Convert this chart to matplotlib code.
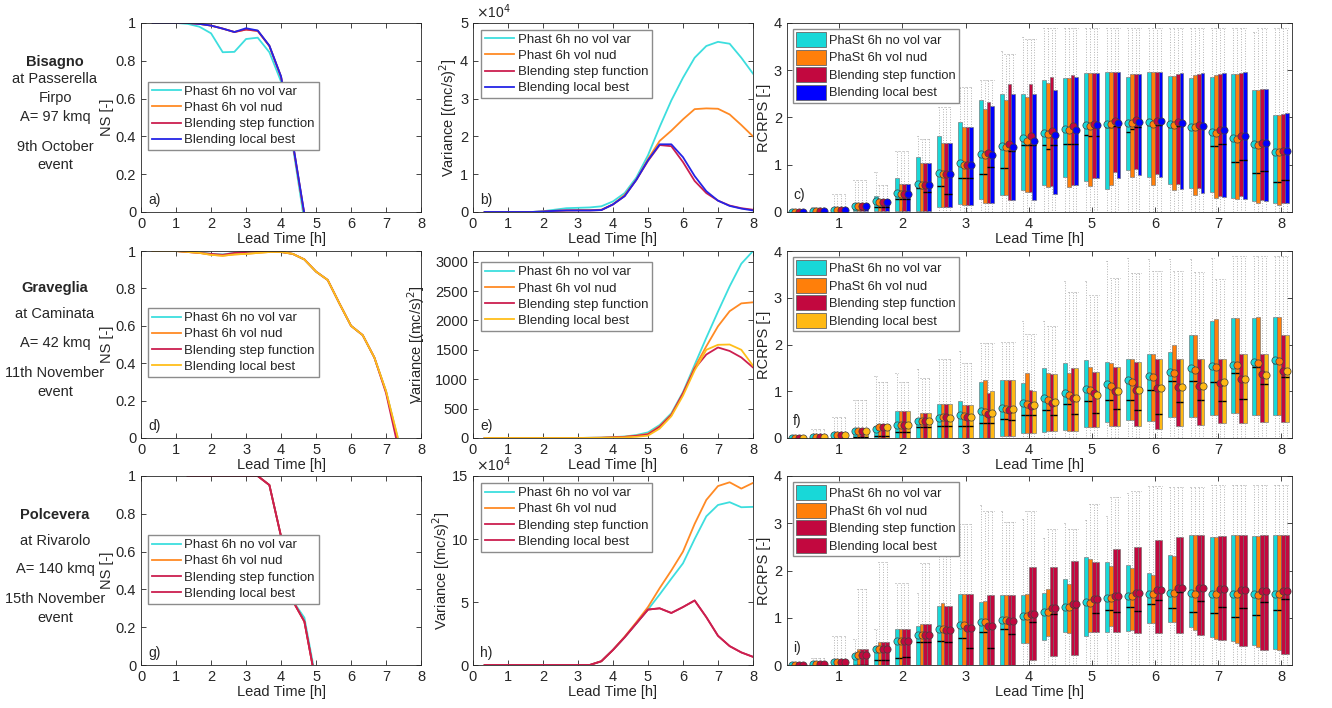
import numpy as np
import matplotlib
matplotlib.use("Agg")
from matplotlib import pyplot as plt
from matplotlib.patches import Patch
from matplotlib.ticker import FormatStrFormatter

plt.rcParams['font.family'] = ['Liberation Sans', 'DejaVu Sans']
plt.rcParams['font.size'] = 10
plt.rcParams['text.color'] = '#262626'
plt.rcParams['axes.labelcolor'] = '#262626'
plt.rcParams['xtick.color'] = '#262626'
plt.rcParams['ytick.color'] = '#262626'

# lead times every 20 minutes
t = np.arange(1, 25) / 3
nan = np.nan

line_names = ['Phast 6h no vol var', 'Phast 6h vol nud', 'Blending step function', 'Blending local best']
box_names = ['PhaSt 6h no vol var', 'PhaSt 6h vol nud', 'Blending step function', 'Blending local best']

CYAN = '#3ddede'
ORANGE = '#ff8a24'
CRIMSON = '#cc1f4f'
BLUE = '#2424e6'
YELLOW = '#ffbe1a'
BCYAN = '#18d8d8'
BORANGE = '#ff7f0a'
BCRIMSON = '#c2083f'
BBLUE = '#0000ff'
BYELLOW = '#ffb914'

stations = [
    ['Bisagno', 'at Passerella', 'Firpo', 'A= 97 kmq', '9th October', 'event'],
    ['Graveglia', 'at Caminata', 'A= 42 kmq', '11th November', 'event'],
    ['Polcevera', 'at Rivarolo', 'A= 140 kmq', '15th November', 'event'],
]

# ---- NS (panels a, d, g)
ns_a = [
    [1, 1, 1, 0.995, 0.98, 0.945, 0.845, 0.847, 0.915, 0.922, 0.845, 0.69, 0.35, -0.05, nan, nan, nan, nan, nan, nan, nan, nan, nan, nan],
    [1, 1, 1, 1, 0.995, 0.986, 0.97, 0.952, 0.965, 0.958, 0.878, 0.715, 0.365, -0.015, nan, nan, nan, nan, nan, nan, nan, nan, nan, nan],
    [1, 1, 1, 1, 0.995, 0.986, 0.97, 0.952, 0.965, 0.958, 0.878, 0.715, 0.365, -0.015, nan, nan, nan, nan, nan, nan, nan, nan, nan, nan],
    [1, 1, 1, 1, 0.995, 0.986, 0.97, 0.952, 0.972, 0.96, 0.88, 0.717, 0.37, -0.01, nan, nan, nan, nan, nan, nan, nan, nan, nan, nan],
]
ns_d = [
    [1, 1, 1, 0.997, 0.993, 0.985, 0.982, 0.99, 0.995, 0.997, 0.997, 0.995, 0.985, 0.955, 0.89, 0.845, 0.72, 0.6, 0.55, 0.43, 0.25, 0.0, nan, nan],
    [1, 1, 1, 0.995, 0.99, 0.98, 0.975, 0.982, 0.985, 0.99, 0.995, 0.995, 0.985, 0.955, 0.89, 0.845, 0.72, 0.6, 0.55, 0.43, 0.25, -0.01, nan, nan],
    [1, 1, 1, 0.995, 0.99, 0.985, 0.98, 0.99, 0.995, 1.0, 0.998, 0.995, 0.985, 0.955, 0.89, 0.845, 0.72, 0.6, 0.55, 0.43, 0.24, -0.04, nan, nan],
    [1, 1, 1, 0.995, 0.99, 0.98, 0.975, 0.982, 0.985, 0.99, 0.995, 0.995, 0.985, 0.955, 0.89, 0.845, 0.72, 0.6, 0.55, 0.43, 0.25, 0.005, nan, nan],
]
ns_g = [
    [nan, nan, nan, 1, 1, 1, 1, 1, 1, 1, 0.952, 0.68, 0.34, 0.25, -0.08, nan, nan, nan, nan, nan, nan, nan, nan, nan],
    [nan, nan, nan, 1, 1, 1, 1, 1, 1, 1, 0.952, 0.68, 0.34, 0.23, -0.1, nan, nan, nan, nan, nan, nan, nan, nan, nan],
    [nan, nan, nan, 1, 1, 1, 1, 1, 1, 1, 0.952, 0.68, 0.34, 0.23, -0.1, nan, nan, nan, nan, nan, nan, nan, nan, nan],
    [nan, nan, nan, 1, 1, 1, 1, 1, 1, 1, 0.952, 0.68, 0.34, 0.23, -0.1, nan, nan, nan, nan, nan, nan, nan, nan, nan],
]

# ---- variance (panels b, h in 1e4 (mc/s)^2, panel e in (mc/s)^2)
var_b = [
    [0, 0, 0, 0, 0, 0.02, 0.06, 0.1, 0.11, 0.12, 0.15, 0.28, 0.5, 0.91, 1.5, 2.25, 2.95, 3.55, 4.08, 4.39, 4.5, 4.45, 4.08, 3.66],
    [0, 0, 0, 0, 0, 0.01, 0.03, 0.04, 0.05, 0.05, 0.06, 0.2, 0.45, 0.85, 1.4, 1.88, 2.15, 2.45, 2.72, 2.74, 2.73, 2.58, 2.3, 2.0],
    [0, 0, 0, 0, 0, 0.01, 0.03, 0.04, 0.04, 0.04, 0.05, 0.2, 0.42, 0.85, 1.35, 1.77, 1.74, 1.32, 0.82, 0.5, 0.3, 0.17, 0.1, 0.06],
    [0, 0, 0, 0, 0, 0.01, 0.03, 0.04, 0.04, 0.04, 0.05, 0.2, 0.42, 0.85, 1.37, 1.79, 1.79, 1.45, 0.95, 0.55, 0.3, 0.16, 0.09, 0.04],
]
var_e = [
    [0, 0, 0, 0, 0, 0, 0, 0, 0, 3, 5, 15, 25, 50, 95, 220, 420, 780, 1245, 1705, 2150, 2580, 2965, 3180],
    [0, 0, 0, 0, 0, 0, 0, 0, 0, 2, 4, 10, 20, 40, 70, 200, 400, 760, 1200, 1560, 1900, 2157, 2290, 2308],
    [0, 0, 0, 0, 0, 0, 0, 0, 0, 2, 4, 10, 18, 35, 60, 190, 390, 760, 1180, 1420, 1540, 1480, 1370, 1200],
    [0, 0, 0, 0, 0, 0, 0, 0, 0, 1, 2, 5, 10, 20, 40, 160, 370, 720, 1150, 1500, 1585, 1590, 1500, 1230],
]
var_h = [
    [0, 0, 0, 0, 0, 0, 0, 0, 0, 0, 0.3, 1.2, 2.2, 3.3, 4.4, 5.6, 6.85, 8.07, 10.0, 11.8, 12.7, 12.92, 12.52, 12.55],
    [0, 0, 0, 0, 0, 0, 0, 0, 0, 0, 0.3, 1.2, 2.25, 3.4, 4.6, 6.1, 7.5, 9.0, 11.2, 13.1, 14.2, 14.5, 14.0, 14.45],
    [0, 0, 0, 0, 0, 0, 0, 0, 0, 0, 0.3, 1.2, 2.2, 3.3, 4.4, 4.5, 4.13, 4.6, 5.12, 3.8, 2.32, 1.5, 1.0, 0.65],
    [0, 0, 0, 0, 0, 0, 0, 0, 0, 0, 0.3, 1.2, 2.2, 3.3, 4.4, 4.5, 4.13, 4.6, 5.12, 3.8, 2.32, 1.5, 1.0, 0.65],
]

# ---- RCRPS box statistics (panels c, f, i)
c_q1 = [
    [0, 0, 0.01, 0.02, 0.03, 0.02, 0.03, 0.1, 0.17, 0.27, 0.35, 0.47, 0.57, 0.75, 0.65, 0.48, 0.88, 0.75, 0.6, 0.5, 0.42, 0.3, 0.23, 0.18],
    [0, 0, 0.01, 0.02, 0.03, 0.02, 0.03, 0.1, 0.15, 0.2, 0.35, 0.43, 0.52, 0.52, 0.55, 0.57, 0.75, 0.57, 0.47, 0.36, 0.3, 0.27, 0.18, 0.15],
    [0, 0, 0.01, 0.02, 0.03, 0.02, 0.03, 0.1, 0.15, 0.2, 0.25, 0.43, 0.55, 0.58, 0.72, 0.85, 0.9, 0.8, 0.6, 0.5, 0.34, 0.34, 0.25, 0.2],
    [0, 0, 0.01, 0.02, 0.03, 0.02, 0.03, 0.1, 0.15, 0.2, 0.25, 0.25, 0.37, 0.58, 0.72, 0.72, 0.78, 0.73, 0.48, 0.4, 0.32, 0.28, 0.23, 0.18],
]
c_med = [
    [0.01, 0.01, 0.03, 0.06, 0.1, 0.28, 0.5, 0.55, 0.72, 0.8, 0.92, 1.42, 1.42, 1.43, 1.62, 1.8, 1.7, 1.85, 1.8, 1.76, 1.39, 1.06, 0.82, 0.64],
    [0.01, 0.01, 0.03, 0.06, 0.1, 0.28, 0.5, 0.55, 0.72, 0.8, 0.92, 1.42, 1.33, 1.43, 1.6, 1.8, 1.75, 1.85, 1.8, 1.76, 1.39, 1.06, 0.82, 0.64],
    [0.01, 0.01, 0.03, 0.06, 0.1, 0.28, 0.42, 0.38, 0.72, 0.95, 1.3, 1.42, 1.42, 1.43, 1.8, 1.82, 1.8, 1.85, 1.82, 1.77, 1.43, 1.1, 0.86, 0.68],
    [0.01, 0.01, 0.03, 0.06, 0.1, 0.28, 0.42, 0.38, 0.72, 0.95, 1.3, 1.42, 1.42, 1.43, 1.6, 1.8, 1.8, 1.85, 1.82, 1.77, 1.43, 1.1, 0.86, 0.68],
]
c_q3 = [
    [0.02, 0.03, 0.06, 0.2, 0.34, 0.72, 1.17, 1.61, 1.91, 2.37, 2.5, 2.5, 2.8, 2.84, 2.95, 2.96, 2.86, 2.96, 2.87, 2.84, 2.85, 2.92, 2.58, 2.05],
    [0.02, 0.03, 0.06, 0.2, 0.27, 0.59, 1.04, 1.46, 1.8, 2.18, 2.36, 2.44, 2.72, 2.84, 2.95, 2.96, 2.92, 2.96, 2.87, 2.89, 2.89, 2.93, 2.59, 2.06],
    [0.02, 0.03, 0.06, 0.2, 0.27, 0.59, 1.04, 1.46, 1.8, 2.32, 2.71, 2.7, 2.86, 2.89, 2.95, 2.96, 2.92, 2.96, 2.93, 2.93, 2.93, 2.95, 2.6, 2.07],
    [0.02, 0.03, 0.06, 0.2, 0.27, 0.59, 1.04, 1.46, 1.8, 2.25, 2.5, 2.49, 2.58, 2.86, 2.95, 2.96, 2.92, 2.96, 2.94, 2.95, 2.95, 2.96, 2.61, 2.09],
]
c_mean = [
    [0.01, 0.02, 0.05, 0.13, 0.24, 0.4, 0.6, 0.82, 1.03, 1.22, 1.4, 1.56, 1.68, 1.76, 1.83, 1.87, 1.89, 1.9, 1.87, 1.8, 1.7, 1.57, 1.43, 1.26],
    [0.01, 0.02, 0.05, 0.13, 0.22, 0.38, 0.58, 0.8, 1.0, 1.2, 1.37, 1.5, 1.64, 1.74, 1.81, 1.87, 1.88, 1.87, 1.84, 1.79, 1.68, 1.55, 1.42, 1.26],
    [0.01, 0.02, 0.05, 0.13, 0.22, 0.38, 0.58, 0.8, 1.0, 1.24, 1.43, 1.6, 1.72, 1.81, 1.87, 1.93, 1.95, 1.93, 1.9, 1.84, 1.74, 1.6, 1.46, 1.3],
    [0.01, 0.02, 0.05, 0.13, 0.22, 0.38, 0.58, 0.8, 1.0, 1.2, 1.38, 1.5, 1.62, 1.74, 1.83, 1.89, 1.9, 1.92, 1.88, 1.82, 1.73, 1.6, 1.46, 1.3],
]
c_whi = [
    [0.05, 0.1, 0.39, 0.67, 0.85, 1.28, 1.6, 2.22, 2.65, 2.8, 3.41, 3.71, 3.89, 3.89, 3.9, 3.9, 3.9, 3.9, 3.9, 3.9, 3.9, 3.9, 3.8, 3.9],
    [0.05, 0.1, 0.39, 0.67, 0.57, 1.28, 1.55, 2.22, 2.65, 2.8, 3.35, 3.65, 3.89, 3.89, 3.9, 3.9, 3.9, 3.9, 3.9, 3.9, 3.9, 3.9, 3.9, 3.9],
    [0.05, 0.1, 0.39, 0.67, 0.57, 1.28, 1.55, 2.22, 2.65, 2.8, 3.35, 3.65, 3.89, 3.89, 3.9, 3.9, 3.9, 3.9, 3.9, 3.9, 3.9, 3.9, 3.9, 3.9],
    [0.05, 0.1, 0.39, 0.67, 0.57, 1.28, 1.55, 2.22, 2.65, 2.8, 3.35, 3.65, 3.89, 3.89, 3.9, 3.9, 3.9, 3.9, 3.9, 3.9, 3.9, 3.9, 3.9, 3.9],
]

f_q1 = [
    [0, 0, 0.01, 0.01, 0.01, 0, 0, 0, 0, 0, 0.05, 0.1, 0.13, 0.16, 0.24, 0.35, 0.38, 0.36, 0.45, 0.45, 0.5, 0.54, 0.5, 0.5],
    [0, 0, 0.01, 0.01, 0.01, 0, 0, 0, 0, 0, 0.05, 0.1, 0.15, 0.15, 0.24, 0.25, 0.38, 0.36, 0.45, 0.45, 0.5, 0.54, 0.5, 0.5],
    [0, 0, 0.01, 0.01, 0.01, 0, 0, 0, 0, 0, 0.05, 0.1, 0.15, 0.15, 0.24, 0.25, 0.25, 0.2, 0.25, 0.27, 0.33, 0.33, 0.35, 0.35],
    [0, 0, 0.01, 0.01, 0.01, 0, 0, 0, 0, 0, 0.05, 0.1, 0.15, 0.15, 0.24, 0.25, 0.25, 0.2, 0.25, 0.27, 0.33, 0.33, 0.35, 0.35],
]
f_med = [
    [0, 0.02, 0.04, 0.03, 0.05, 0.12, 0.24, 0.25, 0.25, 0.32, 0.4, 0.5, 0.6, 0.72, 0.8, 0.82, 0.82, 1.03, 1.22, 1.22, 1.2, 1.38, 1.52, 1.6],
    [0, 0.02, 0.04, 0.03, 0.05, 0.12, 0.24, 0.25, 0.25, 0.32, 0.4, 0.5, 0.6, 0.72, 0.8, 0.82, 0.82, 1.03, 1.22, 1.22, 1.2, 1.38, 1.52, 1.6],
    [0, 0.02, 0.04, 0.03, 0.05, 0.12, 0.24, 0.25, 0.25, 0.32, 0.38, 0.5, 0.5, 0.52, 0.53, 0.62, 0.6, 0.52, 0.78, 0.82, 0.8, 0.83, 1.15, 1.3],
    [0, 0.02, 0.04, 0.03, 0.05, 0.12, 0.24, 0.25, 0.25, 0.32, 0.38, 0.5, 0.5, 0.52, 0.53, 0.62, 0.6, 0.52, 0.78, 0.82, 0.8, 0.83, 1.15, 1.3],
]
f_q3 = [
    [0.01, 0.04, 0.08, 0.2, 0.26, 0.57, 0.4, 0.72, 0.79, 1.2, 1.24, 1.17, 1.5, 1.61, 1.67, 1.63, 1.7, 1.79, 1.83, 2.21, 2.5, 2.57, 2.57, 2.58],
    [0.01, 0.04, 0.08, 0.2, 0.3, 0.57, 0.53, 0.72, 0.71, 1.25, 1.24, 1.39, 1.4, 1.38, 1.52, 1.6, 1.7, 1.79, 2.0, 2.21, 2.54, 2.57, 2.58, 2.58],
    [0.01, 0.04, 0.08, 0.2, 0.3, 0.57, 0.53, 0.72, 0.71, 0.96, 1.24, 1.03, 1.36, 1.5, 1.42, 1.52, 1.62, 1.7, 1.7, 1.7, 1.7, 1.79, 1.79, 2.21],
    [0.01, 0.04, 0.08, 0.2, 0.3, 0.57, 0.53, 0.72, 0.71, 1.01, 1.24, 1.01, 1.36, 1.5, 1.42, 1.52, 1.62, 1.7, 1.7, 1.7, 1.7, 1.79, 1.79, 2.2],
]
f_mean = [
    [0, 0.03, 0.07, 0.14, 0.2, 0.28, 0.36, 0.42, 0.5, 0.58, 0.65, 0.75, 0.85, 0.97, 1.05, 1.16, 1.24, 1.33, 1.42, 1.5, 1.53, 1.57, 1.62, 1.66],
    [0, 0.03, 0.07, 0.14, 0.23, 0.27, 0.37, 0.45, 0.47, 0.56, 0.62, 0.72, 0.82, 0.93, 1.03, 1.12, 1.2, 1.3, 1.38, 1.46, 1.52, 1.56, 1.6, 1.64],
    [0, 0.03, 0.07, 0.14, 0.24, 0.28, 0.37, 0.44, 0.45, 0.52, 0.6, 0.69, 0.75, 0.86, 0.96, 1.0, 1.03, 1.07, 1.09, 1.12, 1.18, 1.27, 1.36, 1.44],
    [0, 0.03, 0.07, 0.14, 0.24, 0.28, 0.37, 0.43, 0.44, 0.53, 0.61, 0.7, 0.78, 0.85, 0.92, 1.0, 1.03, 1.07, 1.09, 1.12, 1.19, 1.27, 1.35, 1.43],
]
f_whi = [
    [0.02, 0.2, 0.45, 0.82, 1.33, 1.4, 1.47, 1.7, 1.86, 2.03, 2.05, 2.5, 2.5, 3.35, 3.35, 3.78, 3.85, 3.83, 3.83, 3.83, 3.85, 3.9, 3.9, 3.9],
    [0.02, 0.2, 0.45, 0.82, 1.2, 1.2, 1.28, 1.7, 1.6, 2.03, 2.05, 2.22, 2.4, 3.12, 3.07, 3.43, 3.52, 3.57, 3.57, 3.55, 3.4, 3.9, 3.9, 3.9],
    [0.02, 0.2, 0.45, 0.82, 1.2, 1.2, 1.28, 1.7, 1.6, 2.03, 2.05, 2.22, 2.4, 3.12, 3.07, 3.43, 3.52, 3.57, 3.57, 3.55, 3.4, 3.9, 3.9, 3.9],
    [0.02, 0.2, 0.45, 0.82, 1.2, 1.2, 1.28, 1.7, 1.6, 2.03, 2.05, 2.22, 2.4, 3.12, 3.07, 3.43, 3.52, 3.57, 3.57, 3.55, 3.4, 3.9, 3.9, 3.9],
]

i_q1 = [
    [0, 0, 0, 0, 0, 0, 0, 0, 0, 0, 0, 0.46, 0.52, 0.7, 0.62, 0.7, 0.73, 0.89, 0.9, 0.8, 0.6, 0.5, 0.43, 0.33],
    [0, 0, 0, 0, 0, 0, 0, 0, 0, 0, 0, 0.47, 0.62, 0.67, 0.7, 0.83, 0.74, 0.89, 0.9, 0.75, 0.56, 0.46, 0.38, 0.32],
    [0, 0, 0, 0, 0, 0, 0, 0, 0, 0, 0, 0.1, 0.2, 0.22, 0.7, 0.7, 0.67, 0.67, 0.67, 0.63, 0.54, 0.4, 0.31, 0.24],
    [0, 0, 0, 0, 0, 0, 0, 0, 0, 0, 0, 0.1, 0.2, 0.22, 0.7, 0.7, 0.67, 0.67, 0.67, 0.63, 0.54, 0.4, 0.31, 0.24],
]
i_med = [
    [0, 0.01, 0.02, 0.01, 0.1, 0.15, 0.48, 0.5, 0.58, 0.7, 0.77, 1.0, 1.1, 1.23, 1.35, 1.17, 1.22, 1.3, 1.2, 1.13, 1.1, 1.02, 1.05, 1.17],
    [0, 0.01, 0.02, 0.01, 0.1, 0.15, 0.48, 0.5, 0.58, 0.7, 0.77, 1.0, 1.1, 1.23, 1.35, 1.17, 1.22, 1.3, 1.2, 1.13, 1.1, 1.02, 1.05, 1.17],
    [0, 0.01, 0.02, 0.01, 0.1, 0.16, 0.48, 0.48, 0.36, 0.37, 0.65, 0.91, 1.08, 1.23, 1.1, 1.12, 1.14, 1.37, 1.55, 1.35, 1.22, 1.2, 1.33, 1.4],
    [0, 0.01, 0.02, 0.01, 0.1, 0.16, 0.48, 0.48, 0.36, 0.37, 0.65, 0.91, 1.08, 1.23, 1.1, 1.12, 1.14, 1.37, 1.55, 1.35, 1.22, 1.2, 1.33, 1.4],
]
i_q3 = [
    [0.01, 0.03, 0.08, 0.24, 0.4, 0.76, 0.82, 1.24, 1.51, 1.34, 1.48, 1.48, 1.53, 1.83, 2.28, 2.19, 2.12, 1.94, 2.32, 2.76, 2.71, 2.76, 2.74, 2.76],
    [0.01, 0.03, 0.08, 0.34, 0.49, 0.76, 0.86, 1.31, 1.51, 1.35, 1.48, 1.5, 1.6, 1.71, 2.24, 2.1, 2.05, 1.91, 2.3, 2.76, 2.71, 2.76, 2.74, 2.76],
    [0.01, 0.03, 0.08, 0.34, 0.49, 0.76, 0.86, 1.25, 1.51, 1.49, 1.48, 2.07, 2.07, 2.21, 2.17, 2.46, 2.5, 2.64, 2.71, 2.76, 2.73, 2.76, 2.75, 2.76],
    [0.01, 0.03, 0.08, 0.34, 0.49, 0.76, 0.86, 1.25, 1.51, 1.49, 1.48, 2.07, 2.07, 2.21, 2.17, 2.46, 2.5, 2.64, 2.71, 2.76, 2.73, 2.76, 2.75, 2.76],
]
i_mean = [
    [0, 0.02, 0.06, 0.2, 0.33, 0.5, 0.63, 0.76, 0.84, 0.9, 0.96, 1.04, 1.13, 1.23, 1.33, 1.41, 1.47, 1.51, 1.53, 1.52, 1.51, 1.51, 1.5, 1.51],
    [0, 0.02, 0.07, 0.22, 0.34, 0.5, 0.63, 0.77, 0.85, 0.9, 0.96, 1.04, 1.13, 1.23, 1.32, 1.41, 1.45, 1.5, 1.52, 1.51, 1.5, 1.5, 1.49, 1.5],
    [0, 0.02, 0.07, 0.22, 0.34, 0.5, 0.63, 0.75, 0.78, 0.83, 0.94, 1.09, 1.2, 1.3, 1.39, 1.46, 1.52, 1.58, 1.62, 1.64, 1.61, 1.58, 1.57, 1.57],
    [0, 0.02, 0.07, 0.22, 0.34, 0.5, 0.63, 0.75, 0.78, 0.83, 0.94, 1.09, 1.2, 1.3, 1.39, 1.46, 1.52, 1.58, 1.62, 1.64, 1.61, 1.58, 1.57, 1.57],
]
i_whi = [
    [0.02, 0.15, 0.62, 0.55, 0.76, 1.73, 1.53, 2.62, 2.98, 3.38, 3.26, 3.1, 2.69, 3.0, 3.06, 3.16, 3.64, 3.79, 3.77, 3.77, 3.8, 3.8, 3.8, 3.8],
    [0.02, 0.15, 0.62, 1.6, 2.19, 1.73, 2.15, 2.62, 2.98, 3.26, 3.03, 3.26, 2.87, 2.87, 3.41, 3.55, 3.69, 3.79, 3.77, 3.77, 3.8, 3.8, 3.8, 3.8],
    [0.02, 0.15, 0.62, 1.6, 2.19, 1.73, 2.15, 2.62, 2.98, 3.26, 3.03, 3.26, 2.87, 2.87, 3.41, 3.55, 3.69, 3.79, 3.77, 3.77, 3.8, 3.8, 3.8, 3.8],
    [0.02, 0.15, 0.62, 1.6, 2.19, 1.73, 2.15, 2.62, 2.98, 3.26, 3.03, 3.26, 2.87, 2.87, 3.41, 3.55, 3.69, 3.79, 3.77, 3.77, 3.8, 3.8, 3.8, 3.8],
]


def style_axes(ax):
    for s in ax.spines.values():
        s.set_color('#262626')
        s.set_linewidth(0.6)
    ax.tick_params(direction='in', top=True, right=True, length=3.5, width=0.6, labelsize=10.5)
    ax.yaxis.set_major_formatter(FormatStrFormatter('%g'))


def line_panel(ax, series, colors, ylim, yticks, ylabel, letter, leg_anchor, label_x):
    for vals, col, name in zip(series, colors, line_names):
        ax.plot(t, vals, color=col, lw=1.3, label=name)
    ax.set_xlim(0, 8)
    ax.set_ylim(*ylim)
    ax.set_xticks(range(9))
    ax.set_yticks(yticks)
    ax.set_xlabel('Lead Time [h]', labelpad=1, fontsize=10.5)
    ax.set_ylabel(ylabel, fontsize=10.5)
    ax.yaxis.set_label_coords(label_x, 0.5)
    ax.text(0.025, 0.04, letter, transform=ax.transAxes, fontsize=10)
    ax.legend(loc='upper left', bbox_to_anchor=leg_anchor, fontsize=9.5, fancybox=False,
              edgecolor='0.55', framealpha=1, handlelength=2.2, labelspacing=0.3,
              borderpad=0.3, handletextpad=0.25, borderaxespad=0)
    style_axes(ax)


def box_panel(ax, q1, med, q3, mean, whi, colors, letter):
    offsets = [-0.09, -0.03, 0.03, 0.09]
    for s in range(4):
        stats = []
        for k in range(24):
            stats.append(dict(whislo=0.0, q1=q1[s][k], med=med[s][k], q3=q3[s][k],
                              whishi=max(whi[s][k], q3[s][k]), mean=mean[s][k], fliers=[]))
        ax.bxp(stats, positions=t + offsets[s], widths=0.06, patch_artist=True,
               showmeans=True, showfliers=False, manage_ticks=False, capwidths=0.04,
               boxprops=dict(facecolor=colors[s], edgecolor='0.4', linewidth=0.4),
               medianprops=dict(color='k', linewidth=1.0),
               whiskerprops=dict(color='0.7', linestyle=':', linewidth=0.7),
               capprops=dict(color='0.6', linestyle=':', linewidth=0.7),
               meanprops=dict(marker='o', markerfacecolor=colors[s], markeredgecolor='0.25',
                              markersize=5.2, markeredgewidth=0.5))
    ax.set_xlim(0.17, 8.17)
    ax.set_ylim(0, 4)
    ax.set_xticks(range(1, 9))
    ax.set_yticks(range(5))
    ax.set_xlabel('Lead Time [h]', labelpad=1, fontsize=10.5)
    ax.set_ylabel('RCRPS [-]', fontsize=10.5)
    ax.yaxis.set_label_coords(-0.032, 0.5)
    ax.text(0.012, 0.07, letter, transform=ax.transAxes, fontsize=10)
    handles = [Patch(facecolor=c, edgecolor='0.4', linewidth=0.6) for c in colors]
    ax.legend(handles, box_names, loc='upper left', bbox_to_anchor=(0.012, 0.968), fontsize=9.3,
              fancybox=False, edgecolor='0.55', framealpha=1, handlelength=2.3, handleheight=1.4,
              labelspacing=0.2, borderpad=0.25, handletextpad=0.25, borderaxespad=0)
    style_axes(ax)


fig = plt.figure(figsize=(13.32, 7.08), dpi=100)

rows_bottom = [0.7006, 0.3814, 0.0607]
rows_height = [0.267, 0.264, 0.267]
col_left = [0.1059, 0.3551, 0.5908]
col_width = [0.2102, 0.2102, 0.379]

axes = [[fig.add_axes([col_left[c], rows_bottom[r], col_width[c], rows_height[r]]) for c in range(3)]
        for r in range(3)]

ns_ticks = [0, 0.2, 0.4, 0.6, 0.8, 1]
line_panel(axes[0][0], ns_a, [CYAN, ORANGE, CRIMSON, BLUE], (0, 1), ns_ticks, 'NS [-]', 'a)', (0.025, 0.69), -0.096)
line_panel(axes[1][0], ns_d, [CYAN, ORANGE, CRIMSON, YELLOW], (0, 1), ns_ticks, 'NS [-]', 'd)', (0.025, 0.695), -0.096)
line_panel(axes[2][0], ns_g, [CYAN, ORANGE, CRIMSON, CRIMSON], (0, 1), ns_ticks, 'NS [-]', 'g)', (0.025, 0.688), -0.096)

var_label = 'Variance [(mc/s)$^2$]'
line_panel(axes[0][1], var_b, [CYAN, ORANGE, CRIMSON, BLUE], (0, 5), range(6), var_label, 'b)', (0.03, 0.965), -0.05)
line_panel(axes[1][1], var_e, [CYAN, ORANGE, CRIMSON, YELLOW], (0, 3180), range(0, 3001, 500), var_label, 'e)', (0.03, 0.94), -0.165)
line_panel(axes[2][1], var_h, [CYAN, ORANGE, CRIMSON, CRIMSON], (0, 15), [0, 5, 10, 15], var_label, 'h)', (0.03, 0.963), -0.075)
for ax in (axes[0][1], axes[2][1]):
    ax.text(0.01, 1.012, r'$\times$10$^4$', transform=ax.transAxes, fontsize=10, ha='left', va='bottom')

box_panel(axes[0][2], c_q1, c_med, c_q3, c_mean, c_whi, [BCYAN, BORANGE, BCRIMSON, BBLUE], 'c)')
box_panel(axes[1][2], f_q1, f_med, f_q3, f_mean, f_whi, [BCYAN, BORANGE, BCRIMSON, BYELLOW], 'f)')
box_panel(axes[2][2], i_q1, i_med, i_q3, i_mean, i_whi, [BCYAN, BORANGE, BCRIMSON, BCRIMSON], 'i)')

# station descriptions on the left
text_y = [
    [62, 79, 98, 117, 147, 165],
    [288, 314, 343, 373, 392],
    [515, 541, 569, 599, 618],
]
for lines, ys in zip(stations, text_y):
    for j, (txt, yp) in enumerate(zip(lines, ys)):
        fig.text(55 / 1332, 1 - yp / 708, txt, ha='center', va='center', fontsize=10.5,
                 fontweight='bold' if j == 0 else 'normal')

fig.savefig('out.png', dpi=100)
